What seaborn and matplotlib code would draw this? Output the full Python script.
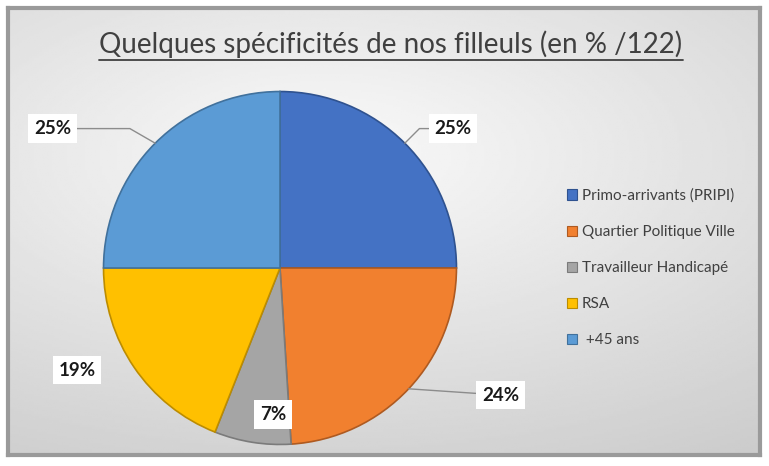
import numpy as np
import matplotlib.pyplot as plt
import seaborn as sns
from matplotlib.lines import Line2D
from matplotlib.patches import Patch

# ---- data ----
categories = ["Primo-arrivants (PRIPI)", "Quartier Politique Ville",
              "Travailleur Handicapé", "RSA", " +45 ans"]
values = [25, 24, 7, 19, 25]
pct_labels = ["25%", "24%", "7%", "19%", "25%"]
colors = ["#4472C4", "#F1802F", "#A5A5A5", "#FFC000", "#5B9BD5"]
edge_colors = ["#2F528F", "#AE5A21", "#7B7B7B", "#BC8C00", "#41719C"]

# label placement (pie radius = 1) + leader line style (None = no line)
label_xy = [(0.98, 0.79), (1.25, -0.72), (-0.04, -0.83), (-1.15, -0.58), (-1.29, 0.79)]
leader_style = ["angle,angleA=0,angleB=45,rad=0", "arc3", None, None,
                "angle,angleA=0,angleB=150,rad=0"]

sns.set_theme(style="white")
plt.rcParams["font.family"] = ["Lato", "DejaVu Sans"]

W, H = 769, 466
fig = plt.figure(figsize=(W / 100, H / 100), dpi=100)
fig.patch.set_facecolor("white")

# ---- gradient background frame ----
bg = fig.add_axes([8 / W, 11 / H, 752 / W, 447 / H])
yy, xx = np.mgrid[0:1:200j, 0:1:300j]
dist = np.sqrt(((xx - 0.42) / 1.0) ** 2 + ((yy - 0.33) / 0.8) ** 2)
grad = 0.98 - 0.18 * np.clip(dist, 0, 1)
bg.imshow(grad, cmap="gray", vmin=0, vmax=1, aspect="auto", extent=[0, 1, 1, 0])
bg.set_xticks([])
bg.set_yticks([])
for s in bg.spines.values():
    s.set_color("#9a9a9a")
    s.set_linewidth(3)

# ---- title (underlined) ----
title = fig.text(391 / W, 1 - 44 / H, "Quelques spécificités de nos filleuls (en % /122)",
                 ha="center", va="center", fontsize=20, color="#404040")
fig.canvas.draw()
bb = title.get_window_extent().transformed(fig.transFigure.inverted())
fig.add_artist(Line2D([bb.x0, bb.x1], [bb.y0 - 0.004, bb.y0 - 0.004],
                      color="#404040", lw=1.3, transform=fig.transFigure))

# ---- pie ----
ax = fig.add_axes([(280 - 180) / W, (H - 268 - 180) / H, 360 / W, 360 / H])
wedges, _ = ax.pie(values, colors=colors, startangle=90, counterclock=False,
                   wedgeprops=dict(linewidth=1.2))
for w, ec in zip(wedges, edge_colors):
    w.set_edgecolor(ec)
ax.set_xlim(-1.02, 1.02)
ax.set_ylim(-1.02, 1.02)
ax.set_aspect("equal")
ax.axis("off")

for w, txt, (lx, ly), style in zip(wedges, pct_labels, label_xy, leader_style):
    mid = np.deg2rad((w.theta1 + w.theta2) / 2)
    ex, ey = np.cos(mid), np.sin(mid)
    box = dict(boxstyle="square,pad=0.3", facecolor="white", edgecolor="none")
    if style is not None:
        ax.annotate(txt, xy=(ex, ey), xytext=(lx, ly), ha="center", va="center",
                    fontsize=13.5, fontweight="bold", color="#1a1a1a", bbox=box,
                    annotation_clip=False,
                    arrowprops=dict(arrowstyle="-", color="#8c8c8c", lw=1,
                                    shrinkA=0, shrinkB=0, connectionstyle=style))
    else:
        ax.text(lx, ly, txt, ha="center", va="center", fontsize=13.5,
                fontweight="bold", color="#1a1a1a", bbox=box, clip_on=False)

# ---- legend ----
handles = [Patch(facecolor=c, edgecolor=ec, lw=0.8) for c, ec in zip(colors, edge_colors)]
fig.legend(handles, categories, loc="center left",
           bbox_to_anchor=(553 / W, 1 - 268 / H), frameon=False,
           fontsize=11, labelcolor="#404040", labelspacing=1.45,
           handlelength=0.65, handleheight=0.65, handletextpad=0.35)

fig.savefig("out.png", dpi=100)
